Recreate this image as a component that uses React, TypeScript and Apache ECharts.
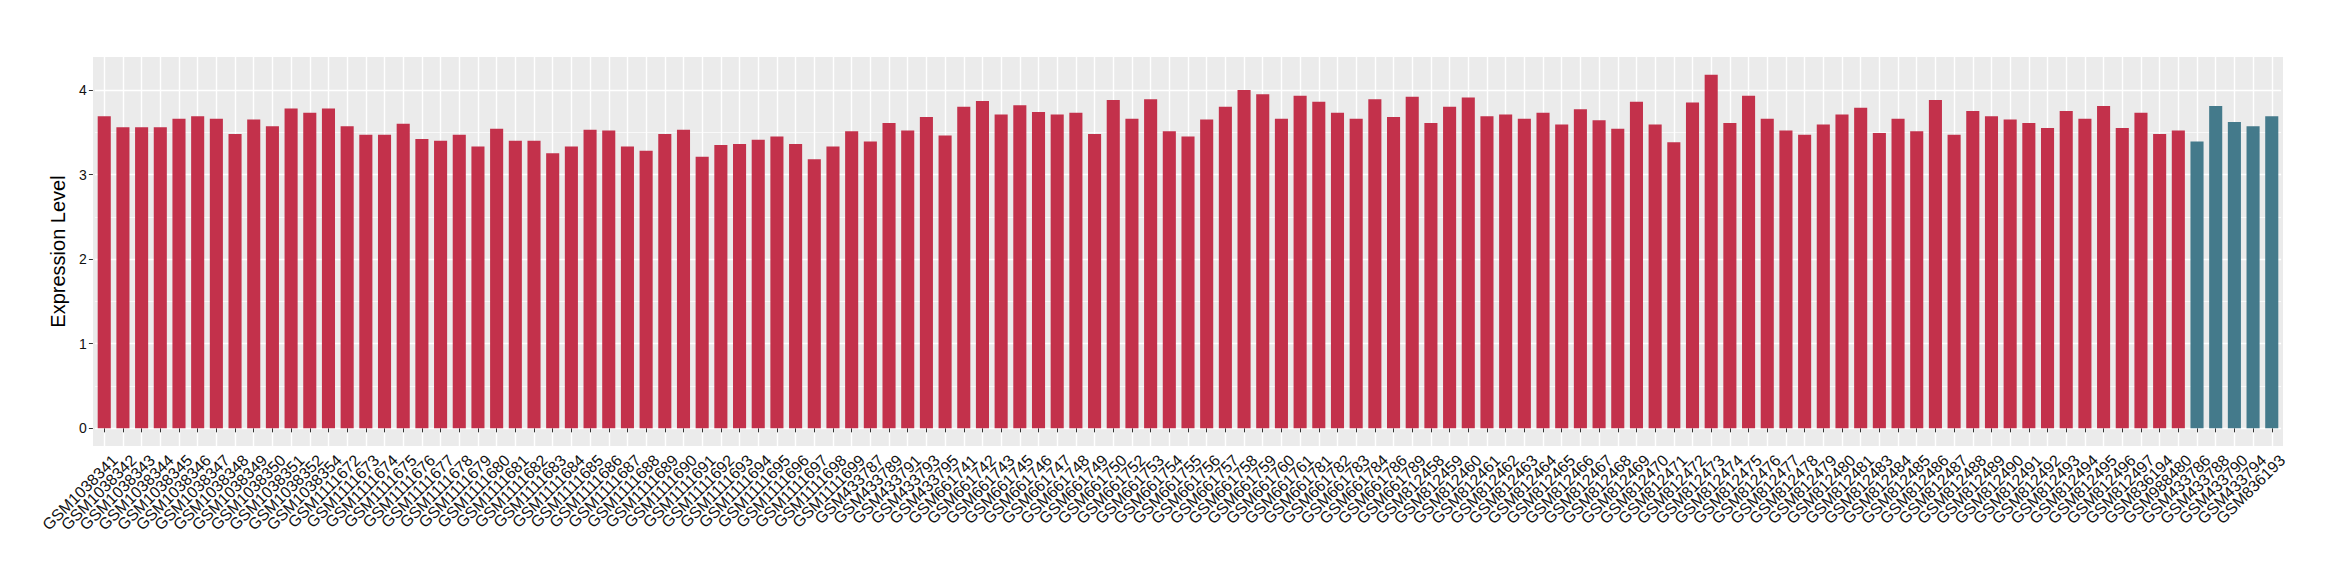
import React, { useEffect, useRef } from "react";
import * as echarts from "echarts";

const redSamples = [
  "GSM1038341", "GSM1038342", "GSM1038343", "GSM1038344", "GSM1038345", "GSM1038346", "GSM1038347",
  "GSM1038348", "GSM1038349", "GSM1038350", "GSM1038351", "GSM1038352", "GSM1038354",
  "GSM1111672", "GSM1111673", "GSM1111674", "GSM1111675", "GSM1111676", "GSM1111677", "GSM1111678",
  "GSM1111679", "GSM1111680", "GSM1111681", "GSM1111682", "GSM1111683", "GSM1111684", "GSM1111685",
  "GSM1111686", "GSM1111687", "GSM1111688", "GSM1111689", "GSM1111690", "GSM1111691", "GSM1111692",
  "GSM1111693", "GSM1111694", "GSM1111695", "GSM1111696", "GSM1111697", "GSM1111698", "GSM1111699",
  "GSM433787", "GSM433789", "GSM433791", "GSM433793", "GSM433795",
  "GSM661741", "GSM661742", "GSM661743", "GSM661745", "GSM661746", "GSM661747", "GSM661748",
  "GSM661749", "GSM661750", "GSM661752", "GSM661753", "GSM661754", "GSM661755", "GSM661756",
  "GSM661757", "GSM661758", "GSM661759", "GSM661760", "GSM661761", "GSM661781", "GSM661782",
  "GSM661783", "GSM661784", "GSM661786", "GSM661789",
  "GSM812458", "GSM812459", "GSM812460", "GSM812461", "GSM812462", "GSM812463", "GSM812464",
  "GSM812465", "GSM812466", "GSM812467", "GSM812468", "GSM812469", "GSM812470", "GSM812471",
  "GSM812472", "GSM812473", "GSM812474", "GSM812475", "GSM812476", "GSM812477", "GSM812478",
  "GSM812479", "GSM812480", "GSM812481", "GSM812483", "GSM812484", "GSM812485", "GSM812486",
  "GSM812487", "GSM812488", "GSM812489", "GSM812490", "GSM812491", "GSM812492", "GSM812493",
  "GSM812494", "GSM812495", "GSM812496", "GSM812497",
  "GSM836194", "GSM988480",
];

const redValues = [
  3.69, 3.56, 3.56, 3.56, 3.66, 3.69, 3.66, 3.48, 3.65, 3.57, 3.78, 3.73, 3.78,
  3.57, 3.47, 3.47, 3.60, 3.42, 3.40, 3.47, 3.33, 3.54, 3.40, 3.40, 3.25, 3.33, 3.53,
  3.52, 3.33, 3.28, 3.48, 3.53, 3.21, 3.35, 3.36, 3.41, 3.45, 3.36, 3.18, 3.33, 3.51,
  3.39, 3.61, 3.52, 3.68, 3.46,
  3.80, 3.87, 3.71, 3.82, 3.74, 3.71, 3.73, 3.48, 3.88, 3.66, 3.89, 3.51, 3.45, 3.65,
  3.80, 4.00, 3.95, 3.66, 3.93, 3.86, 3.73, 3.66, 3.89, 3.68, 3.92,
  3.61, 3.80, 3.91, 3.69, 3.71, 3.66, 3.73, 3.59, 3.77, 3.64, 3.54, 3.86, 3.59, 3.38,
  3.85, 4.18, 3.61, 3.93, 3.66, 3.52, 3.47, 3.59, 3.71, 3.79, 3.49, 3.66, 3.51, 3.88,
  3.47, 3.75, 3.69, 3.65, 3.61, 3.55, 3.75, 3.66, 3.81, 3.55, 3.73,
  3.48, 3.52,
];

const tealSamples = ["GSM433786", "GSM433788", "GSM433790", "GSM433794", "GSM836193"];
const tealValues = [3.39, 3.81, 3.62, 3.57, 3.69];

const yMajorTicks = [0, 1, 2, 3, 4];
const yMinorTicks = [0.5, 1.5, 2.5, 3.5];
const yMin = -0.209;
const yMax = 4.389;

const RED = "#C3314B";
const TEAL = "#447A8B";
const PANEL = "#EBEBEB";
const FONT = "'Liberation Sans', Arial, Helvetica, sans-serif";

export default function App() {
  const ref = useRef<HTMLDivElement>(null);

  useEffect(() => {
    if (!ref.current) return;
    const chart = echarts.init(ref.current, null, { renderer: "svg" });
    const categories = [...redSamples, ...tealSamples];
    const redData = [...redValues, ...tealSamples.map(() => null)];
    const tealData = [...redSamples.map(() => null), ...tealValues];

    chart.setOption({
      animation: false,
      textStyle: { fontFamily: FONT },
      grid: { left: 94.9, right: 58.9, top: 57, bottom: 134, containLabel: false },
      xAxis: [
        {
          type: "category",
          data: categories,
          axisLine: { show: false },
          axisTick: {
            show: true,
            alignWithLabel: true,
            interval: 0,
            length: 4,
            lineStyle: { color: "#333333", width: 1 },
          },
          axisLabel: {
            interval: 0,
            rotate: 45,
            fontSize: 16,
            fontFamily: FONT,
            color: "#111111",
            margin: 1,
            verticalAlign: "top",
            lineHeight: 30,
          },
          splitLine: {
            show: true,
            alignWithLabel: true,
            interval: 0,
            lineStyle: { color: "#ffffff", width: 1.4 },
          },
        },
      ],
      yAxis: [
        {
          type: "value",
          min: yMin,
          max: yMax,
          offset: 2,
          name: "Expression Level",
          nameLocation: "middle",
          nameGap: 20,
          nameTextStyle: { fontSize: 20, color: "#000000", fontFamily: FONT },
          axisLine: { show: false },
          axisTick: {
            show: true,
            length: 4,
            customValues: yMajorTicks,
            lineStyle: { color: "#333333", width: 1 },
          },
          axisLabel: {
            customValues: yMajorTicks,
            fontSize: 14,
            fontFamily: FONT,
            color: "#111111",
            margin: 6,
          },
          splitLine: { show: true, lineStyle: { color: "#ffffff", width: 1.4 } },
        },
        {
          type: "value",
          min: yMin,
          max: yMax,
          position: "left",
          axisLine: { show: false },
          axisTick: { show: false, customValues: yMinorTicks },
          axisLabel: { show: false, customValues: yMinorTicks },
          splitLine: { show: true, lineStyle: { color: "#ffffff", width: 0.7 } },
        },
      ],
      series: [
        {
          type: "bar",
          name: "red",
          stack: "all",
          data: redData,
          barWidth: "70%",
          itemStyle: { color: RED },
          z: 3,
        },
        {
          type: "bar",
          name: "teal",
          stack: "all",
          data: tealData,
          barWidth: "70%",
          itemStyle: { color: TEAL },
          z: 3,
        },
      ],
    });
    return () => chart.dispose();
  }, []);

  return (
    <div style={{ position: "fixed", left: 0, top: 0, width: 2340, height: 580, background: "#ffffff" }}>
      <div
        style={{
          position: "absolute",
          left: 93,
          top: 57,
          width: 2190,
          height: 389,
          background: PANEL,
        }}
      />
      <div ref={ref} style={{ position: "absolute", left: 0, top: 0, width: 2340, height: 580 }} />
    </div>
  );
}
